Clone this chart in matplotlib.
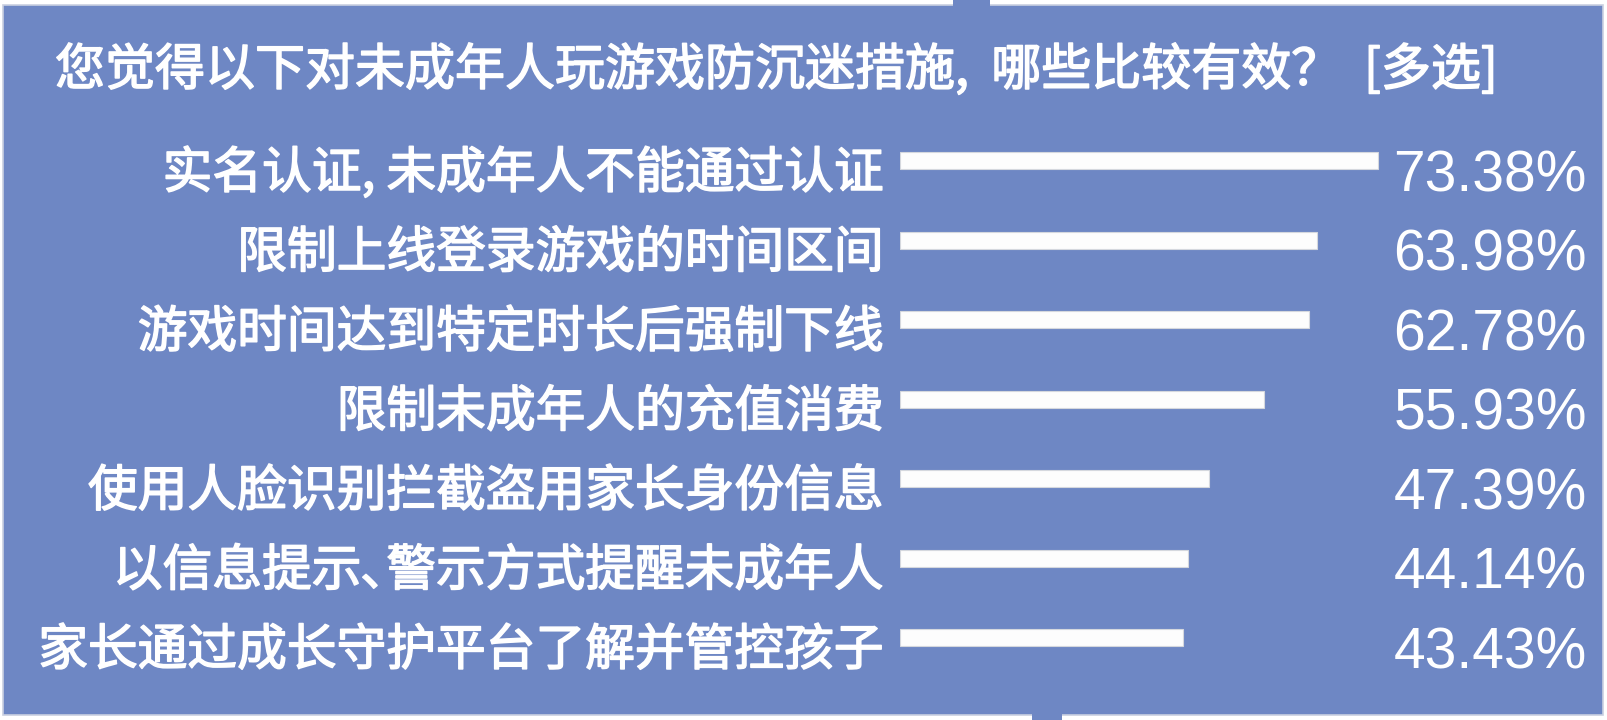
import matplotlib.pyplot as plt
import matplotlib.patheffects as pe
import matplotlib.transforms as mtransforms
from matplotlib.patches import Rectangle

plt.rcParams["font.family"] = ["Noto Sans CJK SC", "DejaVu Sans"]

TITLE = "您觉得以下对未成年人玩游戏防沉迷措施,  哪些比较有效？"
TITLE_TAG = "[多选]"
measures = [
    "实名认证, 未成年人不能通过认证",
    "限制上线登录游戏的时间区间",
    "游戏时间达到特定时长后强制下线",
    "限制未成年人的充值消费",
    "使用人脸识别拦截盗用家长身份信息",
    "以信息提示､警示方式提醒未成年人",
    "家长通过成长守护平台了解并管控孩子",
]
shares = [73.38, 63.98, 62.78, 55.93, 47.39, 44.14, 43.43]

W, H = 1607, 720
BLUE = "#6e87c4"
# regular CJK glyphs thickened a little to get the medium weight of the original
thick = [pe.withStroke(linewidth=1.1, foreground="white")]

fig = plt.figure(figsize=(W / 100, H / 100), dpi=100)
fig.patch.set_facecolor("white")

# blue panel with light border + the two little tabs
fig.patches.append(Rectangle((3 / W, 5 / H), 1600 / W, 710 / H, transform=fig.transFigure,
                             facecolor=BLUE, edgecolor="#c9d0e0", linewidth=1.2, zorder=-10))
fig.patches.append(Rectangle((953 / W, 1 - 6 / H), 37 / W, 6 / H, transform=fig.transFigure,
                             facecolor=BLUE, edgecolor="none", zorder=-10))
fig.patches.append(Rectangle((1032 / W, 0), 30 / W, 6 / H, transform=fig.transFigure,
                             facecolor=BLUE, edgecolor="none", zorder=-10))

fig.text(55 / W, 1 - 71 / H, TITLE, color="white", fontsize=36,
         ha="left", va="center", path_effects=thick)
fig.text(1364 / W, 1 - 71 / H, TITLE_TAG, color="white", fontsize=36,
         ha="left", va="center", path_effects=thick)

# axes: x=0 at px 900, 6.514 px per percent; rows 79.5 px apart starting at y=160.5
px_per_pct = 6.514
row = 79.5
top = 160.5 - row / 2
bottom = 160.5 + 6.5 * row
ax = fig.add_axes([900 / W, 1 - bottom / H, 100 * px_per_pct / W, (bottom - top) / H])
ax.set_xlim(0, 100)
ax.set_ylim(len(measures) - 0.5, -0.5)
ax.axis("off")

ypos = list(range(len(measures)))
ax.barh(ypos, shares, height=17 / row, color="#fdfdfd", edgecolor="#d5d8de", linewidth=0.8)

pct_trans = mtransforms.blended_transform_factory(fig.transFigure, ax.transData)
for y, label, v in zip(ypos, measures, shares):
    ax.text(-16 / px_per_pct, y + 0.17, label, color="white", fontsize=35.8,
            ha="right", va="center", path_effects=thick)
    ax.text(1587 / W, y + 0.2, f"{v:.2f}%", transform=pct_trans, color="white",
            fontsize=41, family="Liberation Sans", ha="right", va="center")

fig.savefig("out.png", dpi=100)
